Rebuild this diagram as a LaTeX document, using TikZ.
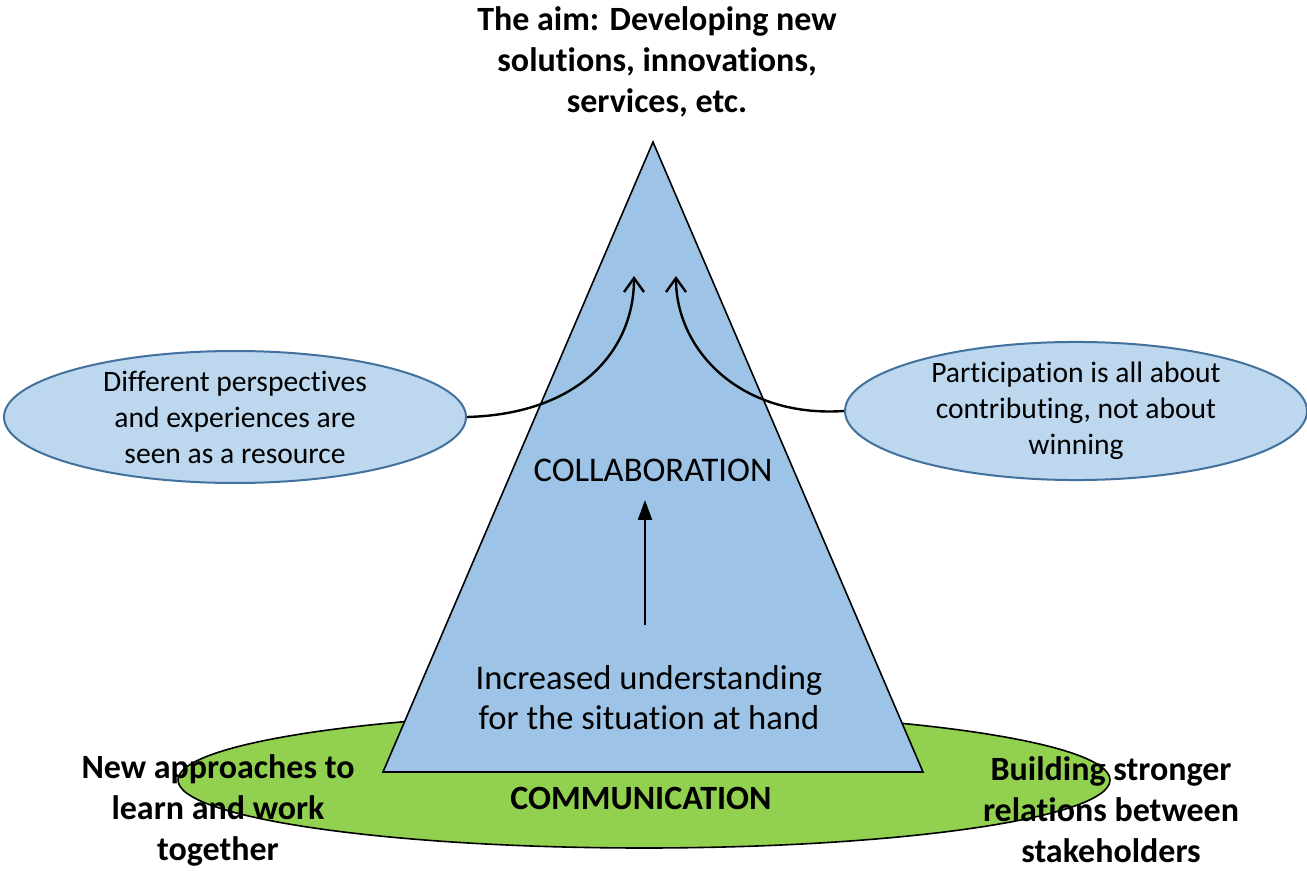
\documentclass[tikz,border=0pt]{standalone}
\usepackage{fontspec}
\setmainfont{Carlito}[Ligatures=NoCommon]
\usetikzlibrary{shapes.geometric,arrows.meta}
\definecolor{triblue}{HTML}{9DC3E6}
\definecolor{ellblue}{HTML}{BDD7EE}
\definecolor{ellline}{HTML}{41719C}
\definecolor{commgreen}{HTML}{92D050}
\tikzset{
  bubble/.style={ellipse, draw=ellline, line width=1pt, fill=ellblue, inner sep=0pt,
    minimum width=231pt, minimum height=66pt, align=center,
    font=\fontsize{14.8}{18}\selectfont},
  boldlbl/.style={align=center, font=\bfseries\fontsize{17}{20.5}\selectfont},
  plainlbl/.style={align=center, font=\fontsize{17.3}{20}\selectfont},
  curvearrow/.style={line width=1.2pt, -{Straight Barb[length=7pt,width=10pt]}},
}
\begin{document}
\begin{tikzpicture}[x=0.5pt,y=-0.5pt]
\useasboundingbox (0,0) rectangle (1307,871);
\fill[white] (0,0) rectangle (1307,871);
% communication ellipse
\node[ellipse, draw=black, line width=0.8pt, fill=commgreen, minimum width=466pt, minimum height=68pt, inner sep=0pt] (comm) at (644,780) {};
% triangle
\coordinate (apex) at (653,142);
\coordinate (bl) at (383,772);
\coordinate (br) at (923,772);
\draw[fill=triblue, line width=0.8pt] (apex) -- (br) -- (bl) -- cycle;
% title
\node[boldlbl, anchor=north] (aim) at (657,0) {The aim: Developing new\\solutions, innovations,\\services, etc.};
% bubbles
\node[bubble] (left) at (235,417) {Different perspectives\\and experiences are\\seen as a resource};
\node[bubble] (right) at (1076,411) {Participation is all about\\contributing, not about\\winning};
% curved arrows
\coordinate (ltip) at (634,276);
\coordinate (rtip) at (676,276);
\draw[curvearrow] (left.east) .. controls (580,414) and (634,350) .. (ltip);
\draw[curvearrow] (right.west) .. controls (740,418) and (676,350) .. (rtip);
% inner labels
\node[plainlbl] (collab) at (653,470) {COLLABORATION};
\node[plainlbl] (under) at (649,698) {Increased understanding\\for the situation at hand};
\draw[line width=1.2pt, -{Triangle[length=10pt,width=7pt]}] (645,625) -- (645,500);
\node[boldlbl] (commlbl) at (641,798) {COMMUNICATION};
% side labels
\node[boldlbl] (newapp) at (218,810) {New approaches to\\learn and work\\together};
\node[boldlbl] (build) at (1111,810) {Building stronger\\relations between\\stakeholders};
\end{tikzpicture}
\end{document}
